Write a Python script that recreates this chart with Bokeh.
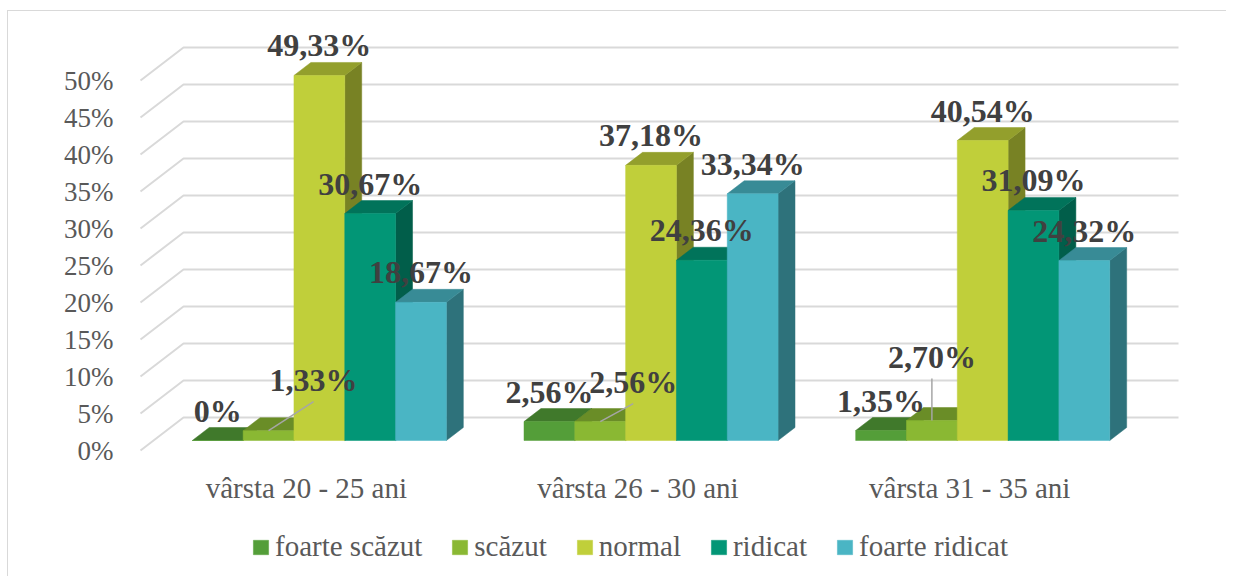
from bokeh.plotting import figure
from bokeh.models import Range1d, FixedTicker, ColumnDataSource, Legend, LegendItem
from bokeh.core.properties import value
from bokeh.embed import file_html
from bokeh.resources import INLINE

# ---------------- data ----------------
categories = ["vârsta 20 - 25 ani", "vârsta 26 - 30 ani", "vârsta 31 - 35 ani"]
series_names = ["foarte scăzut", "scăzut", "normal", "ridicat", "foarte ridicat"]
foarte_scazut = [0.0, 2.56, 1.35]
scazut = [1.33, 2.56, 2.70]
normal = [49.33, 37.18, 40.54]
ridicat = [30.67, 24.36, 31.09]
foarte_ridicat = [18.67, 33.34, 24.32]
y_ticks = [0, 5, 10, 15, 20, 25, 30, 35, 40, 45, 50]
y_tick_labels = ["0%", "5%", "10%", "15%", "20%", "25%", "30%", "35%", "40%", "45%", "50%"]

series_values = [foarte_scazut, scazut, normal, ridicat, foarte_ridicat]

# ---------------- styles ----------------
front_colors = ["#549E39", "#8AB833", "#C0CF3A", "#029676", "#4AB5C4"]
TOP_SHADE = 0.77
SIDE_SHADE = 0.63


def shade(hexcol, f):
    h = hexcol.lstrip("#")
    r, g, b = (int(h[k:k + 2], 16) for k in (0, 2, 4))
    return "#%02x%02x%02x" % (int(r * f), int(g * f), int(b * f))


top_colors = [shade(c, TOP_SHADE) for c in front_colors]
side_colors = [shade(c, SIDE_SHADE) for c in front_colors]

# label nudges in screen pixels (dx, dy; +dy = down) for individually moved labels
label_nudges = {(1, 0): (45, -21), (1, 1): (33, -10), (1, 2): (0, -34)}
LABEL_RAISE = 30     # px between bar top (front) and label baseline

FONT = "Liberation Serif"
TEXT_COLOR = "#595959"
LABEL_COLOR = "#404040"
GRID_COLOR = "#d9d9d9"

# ---------------- geometry of the pseudo-3D view ----------------
PX_CAT = 331.67      # pixels per category on the front plane
PX_PCT = 7.4         # pixels per percent
W, H = 1219, 566
ML, MT, MR = 130, 14, 20
FRAME_W = W - ML - MR
FRAME_H = H - MT
ZERO_FROM_BOTTOM = 127   # pixels between frame bottom and the 0% front line
X_START = -2 / PX_CAT
Y_START = -ZERO_FROM_BOTTOM / PX_PCT
DEPTH_X = 43 / PX_CAT    # full depth shift in x (data units)
DEPTH_Y = 33 / PX_PCT    # full depth shift in y (data units)
Z_FRONT = 0.303
Z_BACK = 0.697
GROUP_W = 0.766
N_SER = len(series_names)
BAR_W = GROUP_W / N_SER
N_CAT = len(categories)

p = figure(width=W, height=H, output_backend="svg", toolbar_location=None,
           x_axis_location=None,
           x_range=Range1d(X_START, X_START + FRAME_W / PX_CAT),
           y_range=Range1d(Y_START, Y_START + FRAME_H / PX_PCT),
           min_border_left=ML, min_border_right=MR, min_border_top=MT, min_border_bottom=0)
p.outline_line_color = None
p.xgrid.visible = False
p.ygrid.visible = False
p.background_fill_color = "white"
p.border_fill_color = "white"
p.styles = {"margin-left": "7px", "margin-top": "10px",
            "border-top": "1px solid #d9d9d9", "border-left": "1px solid #d9d9d9"}


def proj(x, y, z):
    return x + z * DEPTH_X, y + z * DEPTH_Y


# walls: gridlines on left wall (diagonal) and back wall (horizontal)
gx, gy = [], []
for t in y_ticks:
    a = proj(0, t, 0)
    b = proj(0, t, 1)
    c = proj(N_CAT, t, 1)
    gx.append([a[0], b[0], c[0]])
    gy.append([a[1], b[1], c[1]])
p.multi_line(gx, gy, line_color=GRID_COLOR, line_width=2)


def quad(pts):
    xs = [q[0] for q in pts]
    ys = [q[1] for q in pts]
    return xs, ys


legend_items = []
for i, (name, vals) in enumerate(zip(series_names, series_values)):
    fx, fy, tx, ty, sx, sy = [], [], [], [], [], []
    for j, v in enumerate(vals):
        xl = j + (1 - GROUP_W) / 2 + i * BAR_W
        xr = xl + BAR_W
        f = quad([proj(xl, 0, Z_FRONT), proj(xr, 0, Z_FRONT), proj(xr, v, Z_FRONT), proj(xl, v, Z_FRONT)])
        t = quad([proj(xl, v, Z_FRONT), proj(xr, v, Z_FRONT), proj(xr, v, Z_BACK), proj(xl, v, Z_BACK)])
        s = quad([proj(xr, 0, Z_FRONT), proj(xr, 0, Z_BACK), proj(xr, v, Z_BACK), proj(xr, v, Z_FRONT)])
        fx.append(f[0]); fy.append(f[1])
        tx.append(t[0]); ty.append(t[1])
        sx.append(s[0]); sy.append(s[1])
    p.patches(sx, sy, fill_color=side_colors[i], line_color=side_colors[i], line_width=0.5)
    p.patches(tx, ty, fill_color=top_colors[i], line_color=top_colors[i], line_width=0.5)
    r = p.patches(fx, fy, fill_color=front_colors[i], line_color=front_colors[i], line_width=0.5)
    legend_items.append(LegendItem(label=name, renderers=[r]))


def fmt(v):
    if v == 0:
        return "0%"
    return ("%.2f" % v).replace(".", ",") + "%"


# data labels and leader lines
lx, ly, lt, lxo, lyo = [], [], [], [], []
ldx, ldy = [], []
for i, vals in enumerate(series_values):
    for j, v in enumerate(vals):
        xc = j + (1 - GROUP_W) / 2 + (i + 0.5) * BAR_W
        px_, py_ = proj(xc, v, Z_FRONT)
        nx, ny = label_nudges.get((i, j), (0, 0))
        lx.append(px_); ly.append(py_); lt.append(fmt(v))
        lxo.append(nx); lyo.append(-LABEL_RAISE + ny)
        if (i, j) in label_nudges:
            ldx.append([px_, px_ + nx / PX_CAT])
            ldy.append([py_, py_ - (ny - 8) / PX_PCT])

p.multi_line(ldx, ldy, line_color="#a6a6a6", line_width=1.5)
src = ColumnDataSource(dict(x=lx, y=ly, text=lt, xo=lxo, yo=lyo))
p.text(x="x", y="y", text="text", x_offset="xo", y_offset="yo", source=src,
       text_font=value(FONT), text_font_size="32px", text_font_style="bold",
       text_color=LABEL_COLOR, text_align="center", text_baseline="alphabetic")

# category labels (front floor, centred on each category)
cat_x = [j + 0.5 for j in range(N_CAT)]
cat_y = [0 for _ in range(N_CAT)]
p.text(x=cat_x, y=cat_y, text=categories, y_offset=37,
       text_font=value(FONT), text_font_size="29px", text_color=TEXT_COLOR,
       text_align="center", text_baseline="alphabetic")

# value axis
p.yaxis.ticker = FixedTicker(ticks=y_ticks)
p.yaxis.major_label_overrides = {t: l for t, l in zip(y_ticks, y_tick_labels)}
p.yaxis.axis_line_color = None
p.yaxis.major_tick_line_color = None
p.yaxis.minor_tick_line_color = None
p.yaxis.major_tick_out = 0
p.yaxis.major_label_standoff = 25
p.yaxis.major_label_text_font = FONT
p.yaxis.major_label_text_font_size = "27px"
p.yaxis.major_label_text_color = TEXT_COLOR

legend = Legend(items=legend_items, orientation="horizontal", location=(113, 14),
                border_line_color=None, background_fill_alpha=0, padding=0, margin=0,
                spacing=28, label_standoff=5, glyph_width=19, glyph_height=18, label_height=30,
                label_text_font=FONT, label_text_font_size="29px", label_text_color=TEXT_COLOR)
p.add_layout(legend)

open("out.html", "w").write(file_html(p, INLINE))
